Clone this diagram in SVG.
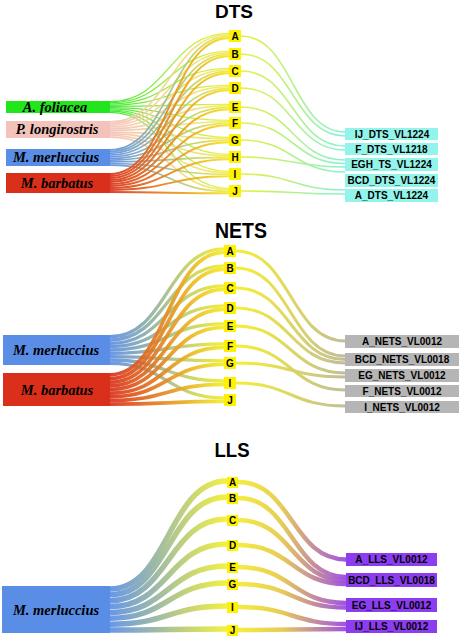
<svg xmlns="http://www.w3.org/2000/svg" width="461" height="639" viewBox="0 0 461 639">
<style>
.bg{fill:#ffffff}
.title{font-family:"Liberation Sans",Arial,sans-serif;font-weight:bold;fill:#000;text-anchor:middle}
.sp{font-family:"Liberation Serif","Times New Roman",serif;font-weight:bold;font-style:italic;font-size:14.5px;fill:#000;text-anchor:middle}
.lab{font-family:"Liberation Sans",Arial,sans-serif;font-weight:bold;font-size:10px;fill:#000;text-anchor:middle}
.let{fill:#fef200}
.cy{fill:#92f4ea}
.gy{fill:#b5b5b5}
.pu{fill:#8c3df0}
.lk{fill:none;stroke-opacity:0.92}
</style>
<defs>
<linearGradient id="gDG" gradientUnits="userSpaceOnUse" x1="110" y1="0" x2="229" y2="0"><stop offset="0" stop-color="#2ee62a"/><stop offset="1" stop-color="#f2f030"/></linearGradient>
<linearGradient id="gDP" gradientUnits="userSpaceOnUse" x1="110" y1="0" x2="229" y2="0"><stop offset="0" stop-color="#f3c3bb"/><stop offset="1" stop-color="#f5e860"/></linearGradient>
<linearGradient id="gDB" gradientUnits="userSpaceOnUse" x1="110" y1="0" x2="229" y2="0"><stop offset="0" stop-color="#5b8fe6"/><stop offset="1" stop-color="#f0ee30"/></linearGradient>
<linearGradient id="gDR" gradientUnits="userSpaceOnUse" x1="110" y1="0" x2="229" y2="0"><stop offset="0" stop-color="#d9301c"/><stop offset="1" stop-color="#f5e620"/></linearGradient>
<linearGradient id="gDX" gradientUnits="userSpaceOnUse" x1="241" y1="0" x2="345" y2="0"><stop offset="0" stop-color="#e2f030"/><stop offset="1" stop-color="#7ef0d4"/></linearGradient>
<linearGradient id="gNB" gradientUnits="userSpaceOnUse" x1="110" y1="0" x2="224" y2="0"><stop offset="0" stop-color="#5b8fe6"/><stop offset="1" stop-color="#f2ee28"/></linearGradient>
<linearGradient id="gNR" gradientUnits="userSpaceOnUse" x1="110" y1="0" x2="224" y2="0"><stop offset="0" stop-color="#d9301c"/><stop offset="1" stop-color="#f2ee28"/></linearGradient>
<linearGradient id="gNX" gradientUnits="userSpaceOnUse" x1="236" y1="0" x2="345" y2="0"><stop offset="0" stop-color="#f6ee20"/><stop offset="1" stop-color="#bdb890"/></linearGradient>
<linearGradient id="gLB" gradientUnits="userSpaceOnUse" x1="110" y1="0" x2="227" y2="0"><stop offset="0" stop-color="#5b8fe6"/><stop offset="1" stop-color="#f2f030"/></linearGradient>
<linearGradient id="gLX" gradientUnits="userSpaceOnUse" x1="238" y1="0" x2="346" y2="0"><stop offset="0" stop-color="#f2ec30"/><stop offset="0.4" stop-color="#e6c848"/><stop offset="1" stop-color="#9a44e0"/></linearGradient>
</defs>
<rect class="bg" x="0" y="0" width="461" height="639"/>

<g id="titles">
<text class="title" x="234" y="18" font-size="19" textLength="38" lengthAdjust="spacingAndGlyphs">DTS</text>
<text class="title" x="241" y="238" font-size="22" textLength="52" lengthAdjust="spacingAndGlyphs">NETS</text>
<text class="title" x="232" y="457" font-size="20" textLength="35" lengthAdjust="spacingAndGlyphs">LLS</text>
</g>

<g id="connectors">
<g class="lk" stroke="url(#gDG)" stroke-width="1.2">
<path d="M110 101.6C169.5 101.6 169.5 33.3 229 33.3"/>
<path d="M110 102.8C169.5 102.8 169.5 51.3 229 51.3"/>
<path d="M110 104C169.5 104 169.5 68.3 229 68.3"/>
<path d="M110 105.2C169.5 105.2 169.5 85.3 229 85.3"/>
<path d="M110 106.4C169.5 106.4 169.5 104.3 229 104.3"/>
<path d="M110 107.6C169.5 107.6 169.5 120.3 229 120.3"/>
<path d="M110 108.8C169.5 108.8 169.5 137.3 229 137.3"/>
<path d="M110 110C169.5 110 169.5 154.3 229 154.3"/>
<path d="M110 111.2C169.5 111.2 169.5 171.3 229 171.3"/>
<path d="M110 112.4C169.5 112.4 169.5 188.3 229 188.3"/>
</g>
<g class="lk" stroke="url(#gDP)" stroke-width="1.7">
<path d="M110 121.9C169.5 121.9 169.5 34.75 229 34.75"/>
<path d="M110 123.6C169.5 123.6 169.5 52.75 229 52.75"/>
<path d="M110 125.3C169.5 125.3 169.5 69.75 229 69.75"/>
<path d="M110 127C169.5 127 169.5 86.75 229 86.75"/>
<path d="M110 128.7C169.5 128.7 169.5 105.75 229 105.75"/>
<path d="M110 130.4C169.5 130.4 169.5 121.75 229 121.75"/>
<path d="M110 132.1C169.5 132.1 169.5 138.75 229 138.75"/>
<path d="M110 133.8C169.5 133.8 169.5 155.75 229 155.75"/>
<path d="M110 135.5C169.5 135.5 169.5 172.75 229 172.75"/>
<path d="M110 137.2C169.5 137.2 169.5 189.75 229 189.75"/>
</g>
<g class="lk" stroke="url(#gDB)" stroke-width="1.7">
<path d="M110 149.9C169.5 149.9 169.5 36.45 229 36.45"/>
<path d="M110 151.6C169.5 151.6 169.5 54.45 229 54.45"/>
<path d="M110 153.3C169.5 153.3 169.5 71.45 229 71.45"/>
<path d="M110 155C169.5 155 169.5 88.45 229 88.45"/>
<path d="M110 156.7C169.5 156.7 169.5 107.45 229 107.45"/>
<path d="M110 158.4C169.5 158.4 169.5 123.45 229 123.45"/>
<path d="M110 160.1C169.5 160.1 169.5 140.45 229 140.45"/>
<path d="M110 161.8C169.5 161.8 169.5 157.45 229 157.45"/>
<path d="M110 163.5C169.5 163.5 169.5 174.45 229 174.45"/>
<path d="M110 165.2C169.5 165.2 169.5 191.45 229 191.45"/>
</g>
<g class="lk" stroke="url(#gDR)" stroke-width="2">
<path d="M110 174C169.5 174 169.5 38.3 229 38.3"/>
<path d="M110 176C169.5 176 169.5 56.3 229 56.3"/>
<path d="M110 178C169.5 178 169.5 73.3 229 73.3"/>
<path d="M110 180C169.5 180 169.5 90.3 229 90.3"/>
<path d="M110 182C169.5 182 169.5 109.3 229 109.3"/>
<path d="M110 184C169.5 184 169.5 125.3 229 125.3"/>
<path d="M110 186C169.5 186 169.5 142.3 229 142.3"/>
<path d="M110 188C169.5 188 169.5 159.3 229 159.3"/>
<path d="M110 190C169.5 190 169.5 176.3 229 176.3"/>
<path d="M110 192C169.5 192 169.5 193.3 229 193.3"/>
</g>
<g class="lk" stroke="url(#gDX)" stroke-width="1.6">
<path d="M241 36C293 36 293 132 345 132"/>
<path d="M241 54C293 54 293 136 345 136"/>
<path d="M241 71C293 71 293 146 345 146"/>
<path d="M241 88C293 88 293 150 345 150"/>
<path d="M241 107C293 107 293 160 345 160"/>
<path d="M241 123C293 123 293 163.5 345 163.5"/>
<path d="M241 140C293 140 293 172 345 172"/>
<path d="M241 157C293 157 293 167 345 167"/>
<path d="M241 174C293 174 293 190 345 190"/>
<path d="M241 191C293 191 293 194 345 194"/>
</g>

<g class="lk" stroke="url(#gNB)" stroke-width="3.33">
<path d="M110 336.7C167 336.7 167 248.9 224 248.9"/>
<path d="M110 340C167 340 167 265.9 224 265.9"/>
<path d="M110 343.3C167 343.3 167 285.9 224 285.9"/>
<path d="M110 346.7C167 346.7 167 305.9 224 305.9"/>
<path d="M110 350C167 350 167 323.9 224 323.9"/>
<path d="M110 353.3C167 353.3 167 343.9 224 343.9"/>
<path d="M110 356.7C167 356.7 167 360.9 224 360.9"/>
<path d="M110 360C167 360 167 380.9 224 380.9"/>
<path d="M110 363.3C167 363.3 167 397.9 224 397.9"/>
</g>
<g class="lk" stroke="url(#gNR)" stroke-width="3.67">
<path d="M110 374.8C167 374.8 167 252.4 224 252.4"/>
<path d="M110 378.5C167 378.5 167 269.4 224 269.4"/>
<path d="M110 382.2C167 382.2 167 289.4 224 289.4"/>
<path d="M110 385.8C167 385.8 167 309.4 224 309.4"/>
<path d="M110 389.5C167 389.5 167 327.4 224 327.4"/>
<path d="M110 393.2C167 393.2 167 347.4 224 347.4"/>
<path d="M110 396.8C167 396.8 167 364.4 224 364.4"/>
<path d="M110 400.5C167 400.5 167 384.4 224 384.4"/>
<path d="M110 404.2C167 404.2 167 401.4 224 401.4"/>
</g>
<g class="lk" stroke="url(#gNX)" stroke-width="3">
<path d="M236 251C290.5 251 290.5 341 345 341"/>
<path d="M236 268C290.5 268 290.5 356 345 356"/>
<path d="M236 288C290.5 288 290.5 359.5 345 359.5"/>
<path d="M236 308C290.5 308 290.5 363 345 363"/>
<path d="M236 326C290.5 326 290.5 373 345 373"/>
<path d="M236 346C290.5 346 290.5 390 345 390"/>
<path d="M236 363C290.5 363 290.5 377 345 377"/>
<path d="M236 383C290.5 383 290.5 406 345 406"/>
</g>

<g class="lk" stroke="url(#gLB)" stroke-width="5.5">
<path d="M110 588.9C168.5 588.9 168.5 481 227 481"/>
<path d="M110 594.8C168.5 594.8 168.5 497 227 497"/>
<path d="M110 600.7C168.5 600.7 168.5 519 227 519"/>
<path d="M110 606.6C168.5 606.6 168.5 544 227 544"/>
<path d="M110 612.4C168.5 612.4 168.5 566 227 566"/>
<path d="M110 618.3C168.5 618.3 168.5 583 227 583"/>
<path d="M110 624.2C168.5 624.2 168.5 606 227 606"/>
<path d="M110 630.1C168.5 630.1 168.5 629 227 629"/>
</g>
<g class="lk" stroke="url(#gLX)" stroke-width="4.5">
<path d="M238 482C292 482 292 559.5 346 559.5"/>
<path d="M238 498C292 498 292 577 346 577"/>
<path d="M238 520C292 520 292 580.5 346 580.5"/>
<path d="M238 545C292 545 292 584 346 584"/>
<path d="M238 567C292 567 292 603 346 603"/>
<path d="M238 584C292 584 292 607.5 346 607.5"/>
<path d="M238 607C292 607 292 624 346 624"/>
<path d="M238 630C292 630 292 629 346 629"/>
</g>
</g>

<!-- DTS source nodes -->
<g id="dts-a-foliacea"><rect x="6" y="101" width="104" height="12" fill="#22e61c"/><text class="sp" x="55" y="111.5">A. foliacea</text></g>
<g id="dts-p-longirostris"><rect x="6" y="121" width="104" height="17" fill="#f2c2bb"/><text class="sp" x="57" y="134">P. longirostris</text></g>
<g id="dts-m-merluccius"><rect x="6" y="149" width="104" height="17" fill="#5a8ee6"/><text class="sp" x="56" y="162">M. merluccius</text></g>
<g id="dts-m-barbatus"><rect x="6" y="173" width="104" height="20" fill="#da2f1a"/><text class="sp" x="57" y="188">M. barbatus</text></g>

<!-- DTS letter nodes -->
<g id="dts-A"><rect class="let" x="229" y="30" width="12" height="12"/><text class="lab" x="235" y="39.5">A</text></g>
<g id="dts-B"><rect class="let" x="229" y="48" width="12" height="12"/><text class="lab" x="235" y="57.5">B</text></g>
<g id="dts-C"><rect class="let" x="229" y="65" width="12" height="12"/><text class="lab" x="235" y="74.5">C</text></g>
<g id="dts-D"><rect class="let" x="229" y="82" width="12" height="12"/><text class="lab" x="235" y="91.5">D</text></g>
<g id="dts-E"><rect class="let" x="229" y="101" width="12" height="12"/><text class="lab" x="235" y="110.5">E</text></g>
<g id="dts-F"><rect class="let" x="229" y="117" width="12" height="12"/><text class="lab" x="235" y="126.5">F</text></g>
<g id="dts-G"><rect class="let" x="229" y="134" width="12" height="12"/><text class="lab" x="235" y="143.5">G</text></g>
<g id="dts-H"><rect class="let" x="229" y="151" width="12" height="12"/><text class="lab" x="235" y="160.5">H</text></g>
<g id="dts-I"><rect class="let" x="229" y="168" width="12" height="12"/><text class="lab" x="235" y="177.5">I</text></g>
<g id="dts-J"><rect class="let" x="229" y="185" width="12" height="12"/><text class="lab" x="235" y="194.5">J</text></g>

<!-- DTS target nodes -->
<g id="dts-IJ"><rect class="cy" x="345" y="128" width="93" height="12"/><text class="lab" x="392" y="137.5">IJ_DTS_VL1224</text></g>
<g id="dts-F-t"><rect class="cy" x="345" y="143" width="93" height="12"/><text class="lab" x="391.5" y="152.5">F_DTS_VL1218</text></g>
<g id="dts-EGH"><rect class="cy" x="345" y="158" width="93" height="13"/><text class="lab" x="391.5" y="168">EGH_TS_VL1224</text></g>
<g id="dts-BCD"><rect class="cy" x="345" y="174" width="93" height="13"/><text class="lab" x="391.5" y="184">BCD_DTS_VL1224</text></g>
<g id="dts-A-t"><rect class="cy" x="345" y="189" width="93" height="13"/><text class="lab" x="391.5" y="199">A_DTS_VL1224</text></g>

<!-- NETS source nodes -->
<g id="nets-m-merluccius"><rect x="3" y="335" width="107" height="30" fill="#5a8ee6"/><text class="sp" x="56" y="355">M. merluccius</text></g>
<g id="nets-m-barbatus"><rect x="3" y="373" width="107" height="33" fill="#da2f1a"/><text class="sp" x="57" y="394.5">M. barbatus</text></g>

<!-- NETS letter nodes -->
<g id="nets-A"><rect class="let" x="224" y="245" width="12" height="12"/><text class="lab" x="230" y="254.5">A</text></g>
<g id="nets-B"><rect class="let" x="224" y="262" width="12" height="12"/><text class="lab" x="230" y="271.5">B</text></g>
<g id="nets-C"><rect class="let" x="224" y="282" width="12" height="12"/><text class="lab" x="230" y="291.5">C</text></g>
<g id="nets-D"><rect class="let" x="224" y="302" width="12" height="12"/><text class="lab" x="230" y="311.5">D</text></g>
<g id="nets-E"><rect class="let" x="224" y="320" width="12" height="12"/><text class="lab" x="230" y="329.5">E</text></g>
<g id="nets-F"><rect class="let" x="224" y="340" width="12" height="12"/><text class="lab" x="230" y="349.5">F</text></g>
<g id="nets-G"><rect class="let" x="224" y="357" width="12" height="12"/><text class="lab" x="230" y="366.5">G</text></g>
<g id="nets-I"><rect class="let" x="224" y="377" width="12" height="12"/><text class="lab" x="230" y="386.5">I</text></g>
<g id="nets-J"><rect class="let" x="224" y="394" width="12" height="12"/><text class="lab" x="230" y="403.5">J</text></g>

<!-- NETS target nodes -->
<g id="nets-A-t"><rect class="gy" x="345" y="335" width="114" height="13"/><text class="lab" x="402" y="345">A_NETS_VL0012</text></g>
<g id="nets-BCD"><rect class="gy" x="345" y="353" width="114" height="13"/><text class="lab" x="402" y="363">BCD_NETS_VL0018</text></g>
<g id="nets-EG"><rect class="gy" x="345" y="369" width="114" height="13"/><text class="lab" x="402" y="379">EG_NETS_VL0012</text></g>
<g id="nets-F-t"><rect class="gy" x="345" y="385" width="114" height="12"/><text class="lab" x="402" y="394.5">F_NETS_VL0012</text></g>
<g id="nets-I-t"><rect class="gy" x="345" y="401" width="114" height="12"/><text class="lab" x="402" y="410.5">I_NETS_VL0012</text></g>

<!-- LLS source node -->
<g id="lls-m-merluccius"><rect x="2" y="586" width="108" height="47" fill="#5a8ee6"/><text class="sp" x="56" y="615">M. merluccius</text></g>

<!-- LLS letter nodes -->
<g id="lls-A"><rect class="let" x="227" y="477" width="11" height="11"/><text class="lab" x="232.5" y="486">A</text></g>
<g id="lls-B"><rect class="let" x="227" y="493" width="11" height="11"/><text class="lab" x="232.5" y="502">B</text></g>
<g id="lls-C"><rect class="let" x="227" y="515" width="11" height="11"/><text class="lab" x="232.5" y="524">C</text></g>
<g id="lls-D"><rect class="let" x="227" y="540" width="11" height="11"/><text class="lab" x="232.5" y="549">D</text></g>
<g id="lls-E"><rect class="let" x="227" y="562" width="11" height="11"/><text class="lab" x="232.5" y="571">E</text></g>
<g id="lls-G"><rect class="let" x="227" y="579" width="11" height="11"/><text class="lab" x="232.5" y="588">G</text></g>
<g id="lls-I"><rect class="let" x="227" y="602" width="11" height="11"/><text class="lab" x="232.5" y="611">I</text></g>
<g id="lls-J"><rect class="let" x="227" y="625" width="11" height="11"/><text class="lab" x="232.5" y="634">J</text></g>

<!-- LLS target nodes -->
<g id="lls-A-t"><rect class="pu" x="346" y="553" width="91" height="13"/><text class="lab" x="391.5" y="563">A_LLS_VL0012</text></g>
<g id="lls-BCD"><rect class="pu" x="346" y="573" width="91" height="14"/><text class="lab" x="391.5" y="584">BCD_LLS_VL0018</text></g>
<g id="lls-EG"><rect class="pu" x="346" y="598" width="91" height="14"/><text class="lab" x="391.5" y="609">EG_LLS_VL0012</text></g>
<g id="lls-IJ"><rect class="pu" x="346" y="620" width="91" height="13"/><text class="lab" x="391.5" y="630">IJ_LLS_VL0012</text></g>
</svg>
